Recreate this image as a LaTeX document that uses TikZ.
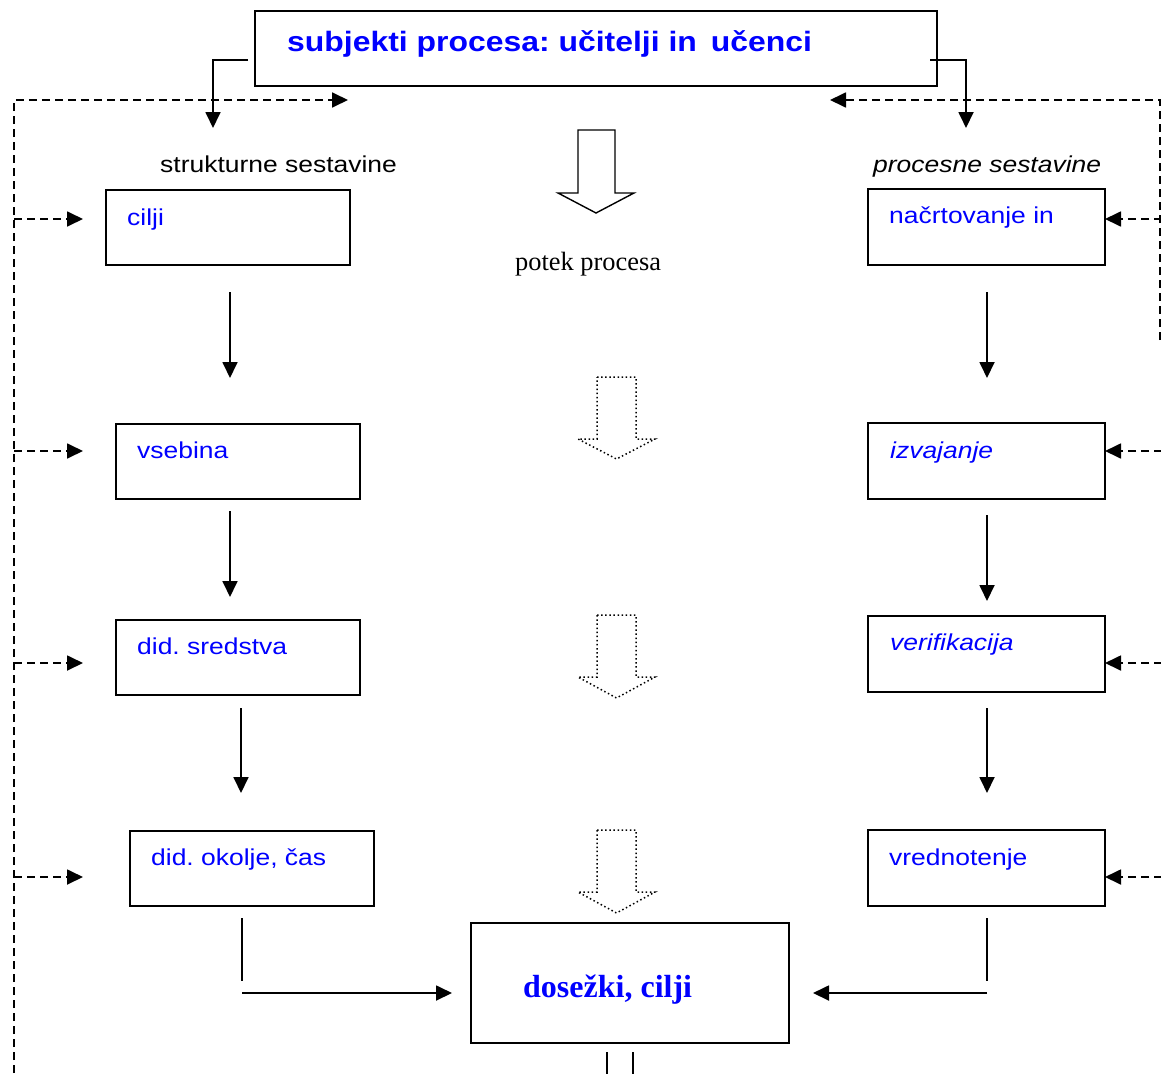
\documentclass[tikz,border=0pt]{standalone}
\usepackage{fontspec}
\setmainfont{Liberation Sans}
\newfontfamily\wide[FakeStretch=1.15]{Liberation Sans}
\newfontfamily\widebold[FakeStretch=1.14]{Liberation Sans Bold}
\newfontfamily\serif{Liberation Serif}
\usetikzlibrary{arrows.meta}
\definecolor{txtblue}{RGB}{0,0,255}
\frenchspacing
\begin{document}
\begin{tikzpicture}[x=1pt,y=-1pt,
  box/.style={draw=black,line width=2pt,rectangle,inner sep=0pt},
  lbl/.style={inner sep=0pt,anchor=base west,font=\wide\fontsize{23}{27}\selectfont},
  bluelbl/.style={lbl,text=txtblue},
  tip/.tip={Triangle[length=16pt,width=15pt]},
  arr/.style={line width=1.8pt,-tip},
  plain/.style={line width=1.8pt},
  fbarrow/.style={line width=1.8pt,dash pattern=on 8pt off 5pt,-tip},
  flowsolid/.style={line width=1.4pt,line join=miter},
  flowdot/.style={line width=1.5pt,dash pattern=on 1.5pt off 2.6pt},
]
\useasboundingbox (0,0) rectangle (1161,1073);

% top box
\node[box,minimum width=682pt,minimum height=75pt] (subj) at (596,48.5) {};
\node[inner sep=0pt,anchor=base west,text=txtblue,font=\widebold\fontsize{28}{32}\selectfont]
  (subjt) at (287,52) {subjekti procesa: učitelji in\hspace{5pt} učenci};

% column headings
\node[lbl] (struk) at (160,172) {strukturne sestavine};
\node[lbl,font=\wide\itshape\fontsize{23}{27}\selectfont] (proc) at (873,172) {procesne sestavine};

% left column: structural components
\node[box,minimum width=244pt,minimum height=75pt] (cilji) at (228,227.5) {};
\node[bluelbl] (ciljit) at (127,225) {cilji};
\node[box,minimum width=244pt,minimum height=75pt] (vseb) at (238,461.5) {};
\node[bluelbl] (vsebt) at (137,458) {vsebina};
\node[box,minimum width=244pt,minimum height=75pt] (sreds) at (238,657.5) {};
\node[bluelbl] (sredst) at (137,654) {did. sredstva};
\node[box,minimum width=244pt,minimum height=75pt] (okol) at (252,868.5) {};
\node[bluelbl] (okolt) at (151,865) {did. okolje, čas};

% right column: process components
\node[box,minimum width=237pt,minimum height=76pt] (nacrt) at (986.5,227) {};
\node[bluelbl] (nacrtt) at (889,223) {načrtovanje in};
\node[box,minimum width=237pt,minimum height=76pt] (izvaj) at (986.5,461) {};
\node[bluelbl,font=\wide\itshape\fontsize{23}{27}\selectfont] (izvajt) at (890,458) {izvajanje};
\node[box,minimum width=237pt,minimum height=76pt] (verif) at (986.5,654) {};
\node[bluelbl,font=\wide\itshape\fontsize{23}{27}\selectfont] (verift) at (890,650) {verifikacija};
\node[box,minimum width=237pt,minimum height=76pt] (vredn) at (986.5,868) {};
\node[bluelbl] (vrednt) at (889,865) {vrednotenje};

% result box
\node[box,minimum width=318pt,minimum height=120pt] (dosez) at (630,983) {};
\node[inner sep=0pt,anchor=base west,text=txtblue,font=\serif\bfseries\fontsize{32}{37}\selectfont]
  (dosezt) at (523,997) {dosežki, cilji};

% course of the process
\node[inner sep=0pt,anchor=base west,font=\serif\fontsize{26.4}{30}\selectfont] (potek) at (515,270) {potek procesa};
\draw[flowsolid] (578,130) -- (615,130) -- (615,193) -- (634,193) -- (596,213) -- (558,193) -- (578,193) -- cycle;
\draw[flowdot] (597,377) -- (636,377) -- (636,439) -- (655,439) -- (616.5,459) -- (578,439) -- (597,439) -- cycle;
\draw[flowdot] (597,615) -- (636,615) -- (636,677) -- (655,677) -- (616.5,698) -- (578,677) -- (597,677) -- cycle;
\draw[flowdot] (597,830) -- (636,830) -- (636,892) -- (655,892) -- (616.5,913) -- (578,892) -- (597,892) -- cycle;

% split from the subjects into both columns
\draw[arr] (248,60) -- (213,60) -- (213,128);
\draw[arr] (930,60) -- (966,60) -- (966,128);

% feedback loops
\draw[fbarrow] (14,1073) -- (14,100) -- (348,100);
\foreach \yy in {219,451,663,877} \draw[fbarrow] (14,\yy) -- (83,\yy);
\draw[fbarrow] (1160,340) -- (1160,100) -- (830,100);
\foreach \yy in {219,451,663,877} \draw[fbarrow] (1162,\yy) -- (1105,\yy);

% sequence arrows, left column
\draw[arr] (230,292) -- (230,378);
\draw[arr] (230,511) -- (230,597);
\draw[arr] (241,708) -- (241,793);
% sequence arrows, right column
\draw[arr] (987,292) -- (987,378);
\draw[arr] (987,515) -- (987,601);
\draw[arr] (987,708) -- (987,793);

% into the results
\draw[plain] (242,918) -- (242,981);
\draw[arr] (242,993) -- (452,993);
\draw[plain] (987,918) -- (987,981);
\draw[arr] (987,993) -- (813,993);

% outlet below the results
\draw[plain] (607,1052) -- (607,1074);
\draw[plain] (633,1052) -- (633,1074);
\end{tikzpicture}
\end{document}
